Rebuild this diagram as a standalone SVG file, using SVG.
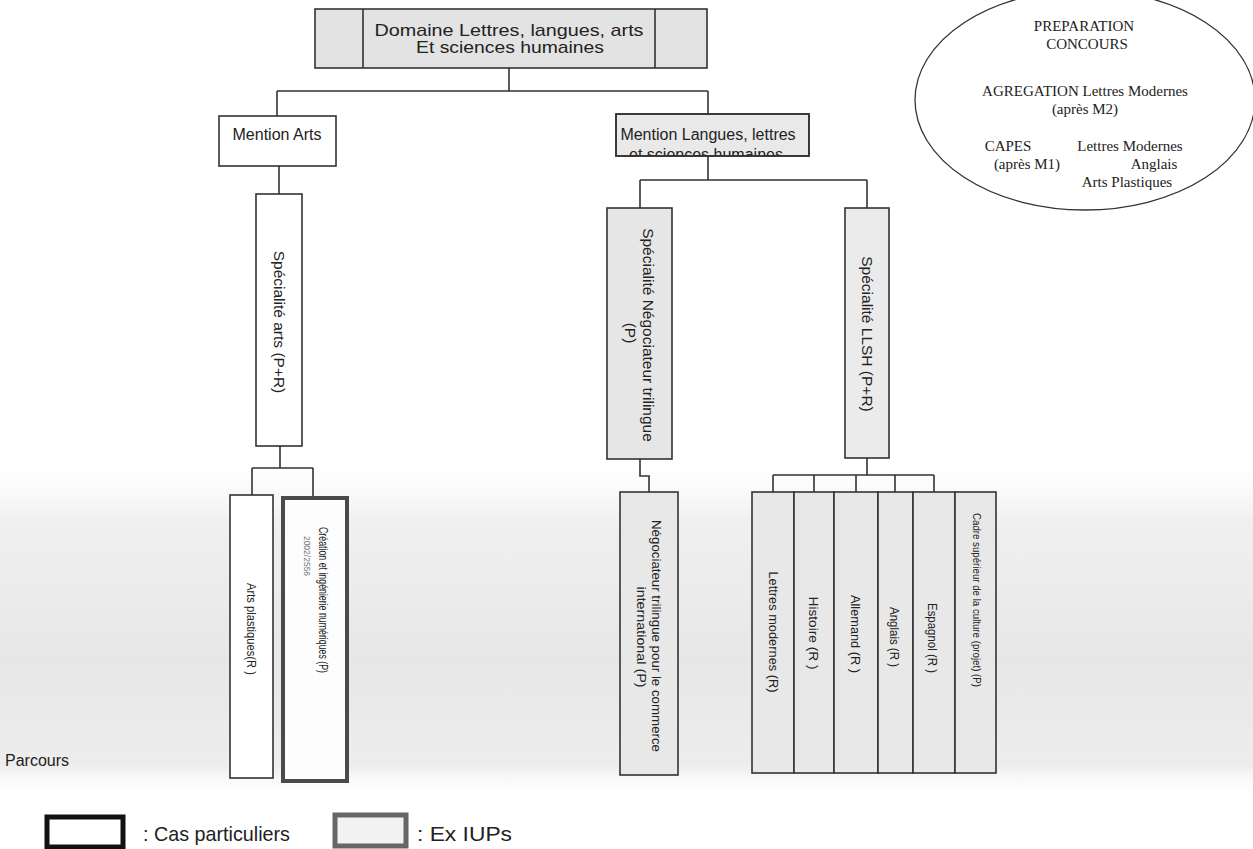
<svg xmlns="http://www.w3.org/2000/svg" width="1253" height="849" viewBox="0 0 1253 849">
<defs>
<style>
.box{fill:#fff;stroke:#333;stroke-width:1.6}
.gbox{fill:#e6e6e6;stroke:#333;stroke-width:1.6}
.t{font-family:"Liberation Sans",Arial,sans-serif;fill:#222}
.tm{font-family:"Liberation Serif","Times New Roman",serif;fill:#222;font-size:15px;text-anchor:middle}
.c{fill:none;stroke:#333;stroke-width:1.6}
</style>
<linearGradient id="band" x1="0" y1="0" x2="0" y2="1">
<stop offset="0" stop-color="#ffffff" stop-opacity="0"/>
<stop offset="0.2" stop-color="#f0f0f0"/>
<stop offset="0.6" stop-color="#e7e7e7"/>
<stop offset="0.9" stop-color="#ededed"/>
<stop offset="1" stop-color="#ffffff" stop-opacity="0"/>
</linearGradient>
<clipPath id="clipML"><rect x="616" y="114" width="193" height="42"/></clipPath>
</defs>
<rect x="0" y="0" width="1253" height="849" fill="#fff"/>
<rect x="0" y="450" width="1253" height="350" fill="url(#band)"/>

<g id="connectors">
<path class="c" d="M509 68V91M277 91H708M277 91V116M708 91V114"/>
<path class="c" d="M279 166V194"/>
<path class="c" d="M280 446V468M252 468H313M252 468V495M313 468V497"/>
<path class="c" d="M708 156V180M640 180H867M640 180V208M867 180V208"/>
<path class="c" d="M640 459V476H649V492"/>
<path class="c" d="M867 458V475M773 475H934M773 475V492M814 475V492M856 475V492M895 475V492M934 475V492"/>
</g>

<g id="domaine">
<rect class="gbox" x="315" y="9" width="392" height="59" style="fill:#e3e3e3"/>
<line x1="363" y1="9" x2="363" y2="68" stroke="#333" stroke-width="1.6"/>
<line x1="655" y1="9" x2="655" y2="68" stroke="#333" stroke-width="1.6"/>
<text class="t" x="509" y="36" font-size="17" text-anchor="middle" textLength="269" lengthAdjust="spacingAndGlyphs">Domaine Lettres, langues, arts</text>
<text class="t" x="510" y="53" font-size="17" text-anchor="middle" textLength="188" lengthAdjust="spacingAndGlyphs">Et sciences humaines</text>
</g>

<g id="concours">
<ellipse cx="1085" cy="100" rx="170" ry="110" fill="none" stroke="#333" stroke-width="1.3"/>
<text class="tm" x="1084" y="31">PREPARATION</text>
<text class="tm" x="1087" y="49">CONCOURS</text>
<text class="tm" x="1085" y="96">AGREGATION Lettres Modernes</text>
<text class="tm" x="1085" y="114">(après M2)</text>
<text class="tm" x="1008" y="151">CAPES</text>
<text class="tm" x="1130" y="151">Lettres Modernes</text>
<text class="tm" x="1027" y="169">(après M1)</text>
<text class="tm" x="1154" y="169">Anglais</text>
<text class="tm" x="1127" y="187">Arts Plastiques</text>
</g>

<g id="mention-arts">
<rect class="box" x="219" y="116" width="117" height="50"/>
<text class="t" x="277" y="140" font-size="16" text-anchor="middle">Mention Arts</text>
</g>

<g id="mention-langues">
<rect class="gbox" x="616" y="114" width="193" height="42" style="fill:#e9e9e9"/>
<text class="t" x="708" y="140" font-size="16" text-anchor="middle">Mention Langues, lettres</text>
<text class="t" x="706" y="160" font-size="16" text-anchor="middle" clip-path="url(#clipML)">et sciences humaines</text>
<rect x="616" y="114" width="193" height="42" fill="none" stroke="#333" stroke-width="1.6"/>
</g>

<g id="specialite-arts">
<rect class="box" x="256" y="194" width="46" height="252"/>
<text class="t" transform="translate(279 322) rotate(90)" font-size="15.5" text-anchor="middle" dy="0.35em">Spécialité arts (P+R)</text>
</g>

<g id="specialite-negociateur">
<rect class="gbox" x="607" y="208" width="65" height="251"/>
<text class="t" transform="translate(648 335) rotate(90)" font-size="15.5" text-anchor="middle" dy="0.35em">Spécialité Négociateur trilingue</text>
<text class="t" transform="translate(630 333) rotate(90)" font-size="15.5" text-anchor="middle" dy="0.35em">(P)</text>
</g>

<g id="specialite-llsh">
<rect class="gbox" x="845" y="208" width="44" height="250" style="fill:#ebebeb"/>
<text class="t" transform="translate(867 334) rotate(90)" font-size="15.5" text-anchor="middle" dy="0.35em">Spécialité LLSH (P+R)</text>
</g>

<g id="arts-plastiques">
<rect class="box" x="230" y="495" width="43" height="283"/>
<text class="t" transform="translate(251 629) rotate(90)" font-size="12" text-anchor="middle" dy="0.35em" textLength="92" lengthAdjust="spacingAndGlyphs">Arts plastiques(R )</text>
</g>

<g id="creation">
<rect x="283" y="498" width="64" height="283" fill="#fdfdfd" stroke="#4a4a4a" stroke-width="4"/>
<text class="t" transform="translate(323 600) rotate(90)" font-size="12.5" text-anchor="middle" dy="0.35em" textLength="146" lengthAdjust="spacingAndGlyphs">Création et ingénierie numériques (P)</text>
<text class="t" transform="translate(307 556) rotate(90)" font-size="8.5" text-anchor="middle" dy="0.35em" style="fill:#777">2002/2556</text>
</g>

<g id="negociateur-commerce">
<rect class="gbox" x="620" y="492" width="58" height="283" style="fill:#e8e8e8"/>
<text class="t" transform="translate(657 636) rotate(90)" font-size="13" text-anchor="middle" dy="0.35em" textLength="232" lengthAdjust="spacingAndGlyphs">Négociateur trilingue pour le commerce</text>
<text class="t" transform="translate(642 637) rotate(90)" font-size="13" text-anchor="middle" dy="0.35em" textLength="101" lengthAdjust="spacingAndGlyphs">international (P)</text>
</g>

<g id="lettres-modernes">
<rect class="gbox" x="752" y="492" width="42" height="281" style="fill:#e8e8e8"/>
<text class="t" transform="translate(773 632) rotate(90)" font-size="12.5" text-anchor="middle" dy="0.35em" textLength="121" lengthAdjust="spacingAndGlyphs">Lettres modernes (R)</text>
</g>
<g id="histoire">
<rect class="gbox" x="794" y="492" width="40" height="281" style="fill:#e8e8e8"/>
<text class="t" transform="translate(813 633) rotate(90)" font-size="12.5" text-anchor="middle" dy="0.35em" textLength="73" lengthAdjust="spacingAndGlyphs">Histoire (R )</text>
</g>
<g id="allemand">
<rect class="gbox" x="834" y="492" width="44" height="281" style="fill:#e8e8e8"/>
<text class="t" transform="translate(855 634) rotate(90)" font-size="12.5" text-anchor="middle" dy="0.35em" textLength="78" lengthAdjust="spacingAndGlyphs">Allemand (R )</text>
</g>
<g id="anglais">
<rect class="gbox" x="878" y="492" width="35" height="281" style="fill:#e8e8e8"/>
<text class="t" transform="translate(894 637) rotate(90)" font-size="12" text-anchor="middle" dy="0.35em" textLength="60" lengthAdjust="spacingAndGlyphs">Anglais (R )</text>
</g>
<g id="espagnol">
<rect class="gbox" x="913" y="492" width="42" height="281" style="fill:#e8e8e8"/>
<text class="t" transform="translate(932 638) rotate(90)" font-size="12" text-anchor="middle" dy="0.35em" textLength="70" lengthAdjust="spacingAndGlyphs">Espagnol (R )</text>
</g>
<g id="cadre">
<rect class="gbox" x="955" y="492" width="41" height="281" style="fill:#e8e8e8"/>
<text class="t" transform="translate(977 600) rotate(90)" font-size="11" text-anchor="middle" dy="0.35em" textLength="174" lengthAdjust="spacingAndGlyphs">Cadre supérieur de la culture (projet) (P)</text>
</g>

<g id="legend">
<text class="t" x="5" y="766" font-size="16">Parcours</text>
<rect x="47" y="817" width="76" height="30" fill="#fff" stroke="#111" stroke-width="5"/>
<text class="t" x="143" y="841" font-size="21" textLength="147" lengthAdjust="spacingAndGlyphs">: Cas particuliers</text>
<rect x="335" y="815" width="71" height="31" fill="#f2f2f2" stroke="#666" stroke-width="5"/>
<text class="t" x="417" y="841" font-size="21" textLength="95" lengthAdjust="spacingAndGlyphs">: Ex IUPs</text>
</g>
</svg>
